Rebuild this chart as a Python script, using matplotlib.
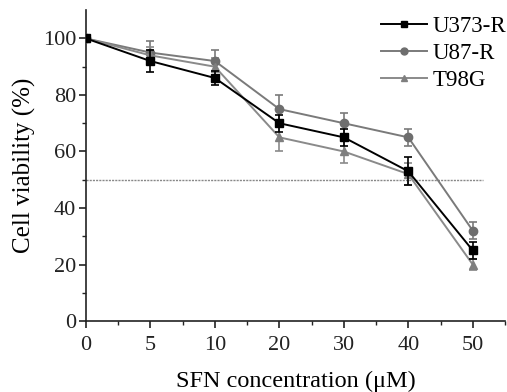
import matplotlib
matplotlib.use("Agg")
import matplotlib.pyplot as plt
from matplotlib.lines import Line2D
import numpy as np

conc_labels = ["0", "5", "10", "20", "30", "40", "50"]
u373 = [100, 92, 86, 70, 65, 53, 25]
u373_err = [0, 4, 2.5, 3, 3, 5, 3]
u87 = [100, 95, 92, 75, 70, 65, 32]
u87_err = [0, 4, 4, 5, 3.7, 3, 3]
t98g = [100, 94, 90, 65, 60, 52, 20]
t98g_err = [0, 3, 3, 5, 4, 4, 2]

plt.rcParams['font.family'] = ['Liberation Serif', 'DejaVu Serif']

fig = plt.figure(figsize=(5.07, 3.92), dpi=100)
ax = fig.add_axes([0.1696, 0.181, 0.8264, 0.793])

x = np.arange(len(conc_labels))

ax.axhline(50, xmin=0, xmax=6.16/6.5, color='#888888', lw=1.0, ls=(0, (1.5, 0.8)), zorder=1)

series = [
    ("U373-R", u373, u373_err, '#000000', '#000000', 's'),
    ("U87-R", u87, u87_err, '#7a7a7a', '#6e6e6e', 'o'),
    ("T98G", t98g, t98g_err, '#8a8a8a', '#7f7f7f', '^'),
]
order_z = {"U373-R": 4, "U87-R": 3, "T98G": 3}
handles = []
for name, vals, errs, lc, mc, mk in series:
    ax.errorbar(x, vals, yerr=errs, color=lc, lw=1.4, marker=mk, markersize=6,
                markerfacecolor=mc, markeredgecolor=mc, ecolor=lc, elinewidth=1.2,
                capsize=3, capthick=1.2, zorder=order_z[name])
    handles.append(Line2D([], [], color=lc, lw=1.4, marker=mk, markersize=5,
                          markerfacecolor=mc, markeredgecolor=mc, label=name))

ax.set_xlim(0, 6.5)
ax.set_ylim(0, 110)
ax.set_xticks(x)
ax.set_xticklabels(conc_labels)
ax.set_xticks(np.arange(0.5, 6.6, 1.0), minor=True)
ax.set_yticks([0, 20, 40, 60, 80, 100])
ax.set_yticks([10, 30, 50, 70, 90], minor=True)

for s in ['top', 'right']:
    ax.spines[s].set_visible(False)
for s in ['left', 'bottom']:
    ax.spines[s].set_linewidth(1.2)
    ax.spines[s].set_color('#222222')

ax.tick_params(axis='both', which='major', direction='out', length=5, width=1.2, labelsize=16, colors='#222222')
ax.tick_params(axis='both', which='minor', direction='out', length=3, width=1.0, colors='#222222')
ax.tick_params(axis='x', pad=6)
ax.tick_params(axis='y', pad=2)

ax.set_xlabel("SFN concentration (\u03bcM)", fontsize=17.5, labelpad=11)
ax.set_ylabel("Cell viability (%)", fontsize=18, labelpad=5)

leg = ax.legend(handles=handles, loc='upper right', frameon=False, fontsize=16.5,
                handlelength=2.0, handletextpad=0.25, labelspacing=0.25,
                borderaxespad=0.0, bbox_to_anchor=(1.025, 1.01))

fig.savefig("out.png", dpi=100)
